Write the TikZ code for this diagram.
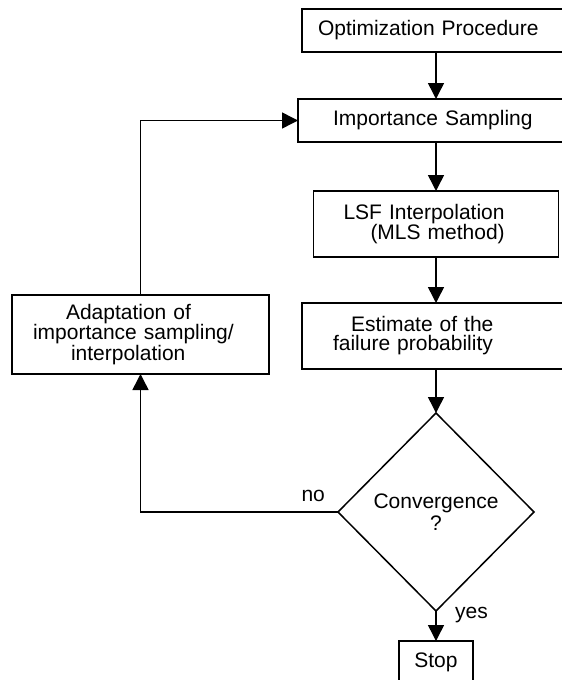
\documentclass[tikz,border=0pt]{standalone}
\usepackage{fontspec}
\setmainfont{Liberation Sans}
\usetikzlibrary{positioning, arrows.meta, shapes.geometric}

\begin{document}
\begin{tikzpicture}[x=1pt, y=-1pt, >={Triangle[length=16pt, width=16pt]},
    line width=1.5pt, font=\fontsize{21}{19}\selectfont,
    box/.style={draw, rectangle, align=left, inner sep=0pt, outer sep=0pt},
    decision/.style={draw, diamond, align=center, inner sep=0pt, outer sep=0pt, font=\fontsize{21}{22}\selectfont}]
  \useasboundingbox (0,0) rectangle (562,680);
  \clip (0,0) rectangle (562,680);

  \node[box, minimum width=268pt, minimum height=43pt, text width=236pt] (opt) at (436,30.5) {Optimization Procedure};
  \node[box, minimum width=276pt, minimum height=43pt, text width=206pt] (imp) [below=47pt of opt] {Importance Sampling};
  \node[box, minimum width=245pt, minimum height=66pt, text width=185pt] (lsf) [below=49pt of imp] {LSF Interpolation\\\hspace*{27pt}(MLS method)};
  \node[box, minimum width=268pt, minimum height=66pt, text width=206pt] (est) [below=46pt of lsf] {\hspace*{18pt}Estimate of the\\failure probability};
  \node[decision, minimum width=196pt, minimum height=198pt] (conv) [below=44pt of est] {Convergence\\?};
  \node[box, minimum width=74pt, minimum height=43pt] (stop) [below=30pt of conv] {Stop};
  \node[box, minimum width=257pt, minimum height=79pt, text width=215pt] (adapt) at (140.5,334.5) {\hspace*{33pt}Adaptation of\\importance sampling/\\\hspace*{38pt}interpolation};

  \draw[->] (opt) -- (imp);
  \draw[->] (imp) -- (lsf);
  \draw[->] (lsf) -- (est);
  \draw[->] (est) -- (conv);
  \draw[->] (conv) -- node[pos=0, anchor=base west, xshift=15pt, yshift=-7pt] (yes) {yes} (stop);
  \draw[->] (conv.west) -| node[pos=0, anchor=base east, xshift=-9pt, yshift=11pt] (no) {no} (adapt.south);
  \draw[->] (adapt.north) |- (imp.west);
\end{tikzpicture}
\end{document}
